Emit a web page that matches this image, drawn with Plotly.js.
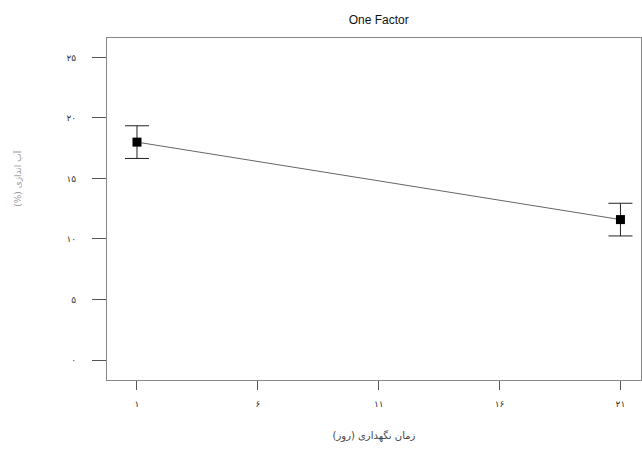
<!DOCTYPE html>
<html>
<head>
<meta charset="utf-8">
<script src="https://cdn.plot.ly/plotly-3.0.1.min.js"></script>
<style>html,body{margin:0;padding:0;background:#fff;}#chart{width:642px;height:451px;}</style>
</head>
<body>
<div id="chart"></div>
<script>
const days = [1, 21];
const meanValues = [18.0, 11.6];
const errorValues = [1.35, 1.35];
const xTickVals = [1, 6, 11, 16, 21];
const xTickText = ['۱', '۶', '۱۱', '۱۶', '۲۱'];
const yTickVals = [0, 5, 10, 15, 20, 25];
const yTickText = ['۰', '۵', '۱۰', '۱۵', '۲۰', '۲۵'];
const xTitle = 'زمان نگهداری (روز)';
const yTitle = '(%) آب اندازی';

const trace = {
  x: days,
  y: meanValues,
  type: 'scatter',
  mode: 'lines+markers',
  line: {color: '#666', width: 1},
  marker: {symbol: 'square', size: 9, color: '#000'},
  error_y: {type: 'data', array: errorValues, visible: true, color: '#222', thickness: 1, width: 12}
};

const layout = {
  width: 642, height: 451,
  margin: {l: 107, r: 1, t: 38, b: 71},
  paper_bgcolor: '#fff', plot_bgcolor: '#fff',
  showlegend: false,
  font: {family: 'DejaVu Sans, Arial, sans-serif', color: '#333', size: 9},
  title: {text: 'One Factor', x: 0.59, xanchor: 'center', y: 0.955, yanchor: 'middle',
          font: {family: 'Liberation Sans, Arial, sans-serif', size: 12, color: '#111'}},
  xaxis: {
    range: [-0.24, 21.85], tickvals: xTickVals, ticktext: xTickText,
    showgrid: false, zeroline: false, showline: true, mirror: true, linecolor: '#888', linewidth: 1,
    ticks: 'outside', ticklen: 9, tickcolor: '#555', tickwidth: 1, ticklabelstandoff: 6,
    tickfont: {size: 9, color: '#333'},
    title: {text: xTitle, standoff: 24, font: {size: 10, color: '#444'}}
  },
  yaxis: {
    range: [-1.65, 26.6], tickvals: yTickVals, ticktext: yTickText,
    showgrid: false, zeroline: false, showline: true, mirror: true, linecolor: '#888', linewidth: 1,
    ticks: 'outside', ticklen: 14, tickcolor: '#555', tickwidth: 1, ticklabelstandoff: 14,
    tickfont: {size: 9, color: '#333'}
  },
  annotations: [{
    text: yTitle, textangle: -90, showarrow: false,
    xref: 'paper', yref: 'paper', x: -0.167, y: 0.588, xanchor: 'center', yanchor: 'middle',
    font: {size: 9, color: '#999'}
  }]
};

Plotly.newPlot('chart', [trace], layout, {displayModeBar: false, staticPlot: true});
</script>
</body>
</html>
